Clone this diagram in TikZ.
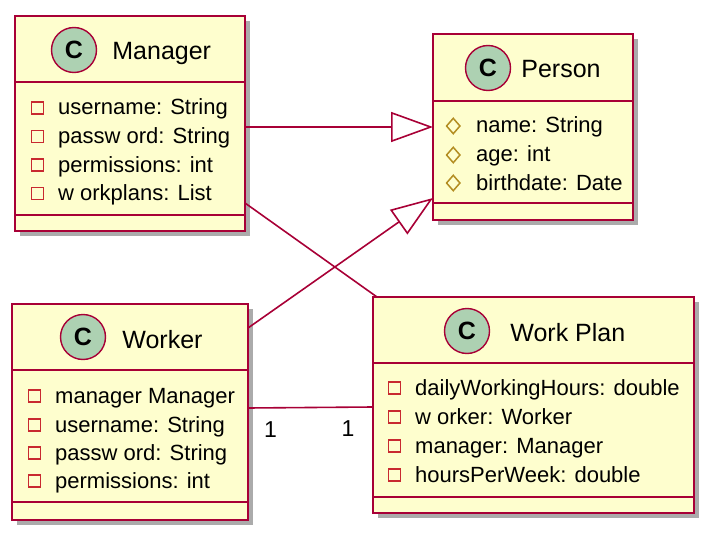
\documentclass[tikz,border=0pt]{standalone}
\usepackage{fontspec}
\setmainfont{Liberation Sans}
\usetikzlibrary{arrows.meta,shadows,shapes.geometric,positioning}

\definecolor{umlborder}{HTML}{A80036}
\definecolor{umlfill}{HTML}{FEFECE}
\definecolor{spotfill}{HTML}{ADD1B2}
\definecolor{privred}{HTML}{C82930}
\definecolor{protgold}{HTML}{B38D22}

\tikzset{
  classbox/.style={rectangle, draw=umlborder, fill=umlfill, line width=2.8pt,
    inner sep=0pt, outer sep=0pt, anchor=north west,
    drop shadow={shadow xshift=5pt, shadow yshift=-5pt, fill=black, opacity=0.33}},
  classline/.style={draw=umlborder, line width=2.8pt},
  spot/.style={circle, draw=umlborder, fill=spotfill, line width=1.4pt,
    minimum size=45pt, inner sep=0pt, font=\fontsize{25}{25}\selectfont\bfseries},
  classname/.style={anchor=base west, inner sep=0pt, font=\fontsize{25}{30}\selectfont},
  attr/.style={anchor=base west, inner sep=0pt, text height=17pt, text depth=3pt,
    font=\fontsize{22}{26}\selectfont},
  privicon/.style={rectangle, draw=privred, line width=1.5pt, minimum size=12pt, inner sep=0pt},
  proticon/.style={diamond, draw=protgold, line width=1.5pt, minimum width=14pt,
    minimum height=16pt, inner sep=0pt},
  priv/.style={label={[privicon, label distance=14pt]left:{}}},
  prot/.style={label={[proticon, label distance=15pt]left:{}}},
  assoc/.style={draw=umlborder, line width=1.6pt},
  extends/.style={assoc, -{Triangle[open, length=42pt, width=30pt]}},
  mult/.style={font=\fontsize{23}{26}\selectfont, inner sep=2pt}
}

\begin{document}
\begin{tikzpicture}[x=1pt, y=-1pt]
	\useasboundingbox (0,0) rectangle (714,540);

	% class boxes
	\node[classbox, minimum width=230pt, minimum height=215pt] (manager) at (15,16) {};
	\node[classbox, minimum width=200pt, minimum height=186pt] (person) at (433,34) {};
	\node[classbox, minimum width=236pt, minimum height=216pt] (worker) at (12,304) {};
	\node[classbox, minimum width=321pt, minimum height=216pt] (workplan) at (373,297) {};

	% compartments
	\draw[classline] ([yshift=-66pt]manager.north west) -- ([yshift=-66pt]manager.north east);
	\draw[classline] ([yshift=16pt]manager.south west) -- ([yshift=16pt]manager.south east);
	\draw[classline] ([yshift=-67pt]person.north west) -- ([yshift=-67pt]person.north east);
	\draw[classline] ([yshift=17pt]person.south west) -- ([yshift=17pt]person.south east);
	\draw[classline] ([yshift=-66pt]worker.north west) -- ([yshift=-66pt]worker.north east);
	\draw[classline] ([yshift=18pt]worker.south west) -- ([yshift=18pt]worker.south east);
	\draw[classline] ([yshift=-66pt]workplan.north west) -- ([yshift=-66pt]workplan.north east);
	\draw[classline] ([yshift=16pt]workplan.south west) -- ([yshift=16pt]workplan.south east);

	% headers
	\node[spot] (managerC) at (74,50) {C};
	\node[classname] (managerName) at ([xshift=15pt, yshift=-10pt]managerC.east) {Manager};
	\node[spot] (personC) at (488,68) {C};
	\node[classname] (personName) at ([xshift=10pt, yshift=-10pt]personC.east) {Person};
	\node[spot] (workerC) at (83,337) {C};
	\node[classname] (workerName) at ([xshift=16pt, yshift=-11pt]workerC.east) {Worker};
	\node[spot] (workplanC) at (467,331) {C};
	\node[classname] (workplanName) at ([xshift=20pt, yshift=-10pt]workplanC.east) {Work Plan};

	% attributes
	\node[attr, priv] (managerA) at (58,115) {username: String};
	\node[attr, priv] (managerB) at (58,143.5) {passw ord: String};
	\node[attr, priv] (managerD) at (58,172) {permissions: int};
	\node[attr, priv] (managerE) at (58,200.5) {w orkplans: List};

	\node[attr, prot] (personA) at (476,133) {name: String};
	\node[attr, prot] (personB) at (476,162) {age: int};
	\node[attr, prot] (personD) at (476,190) {birthdate: Date};

	\node[attr, priv] (workerA) at (55,403) {manager Manager};
	\node[attr, priv] (workerB) at (55,432) {username: String};
	\node[attr, priv] (workerD) at (55,460) {passw ord: String};
	\node[attr, priv] (workerE) at (55,488) {permissions: int};

	\node[attr, priv] (workplanA) at (415,395) {dailyWorkingHours: double};
	\node[attr, priv] (workplanB) at (415,424) {w orker: Worker};
	\node[attr, priv] (workplanD) at (415,453) {manager: Manager};
	\node[attr, priv] (workplanE) at (415,482) {hoursPerWeek: double};

	% relations
	\draw[extends] (manager.east |- person.west) -- (person.west);
	\draw[extends] ([yshift=-24pt]worker.north east) -- ([yshift=22pt]person.south west);
	\draw[assoc] ([yshift=28pt]manager.south east) -- ([xshift=4pt]workplan.north west);
	\draw[assoc] ([yshift=4pt]worker.east) --
		node[mult, pos=0.18, below=11pt] (workerMult) {1}
		node[mult, pos=0.8, below=11pt] (workplanMult) {1}
		([yshift=-2pt]workplan.west);
\end{tikzpicture}
\end{document}
